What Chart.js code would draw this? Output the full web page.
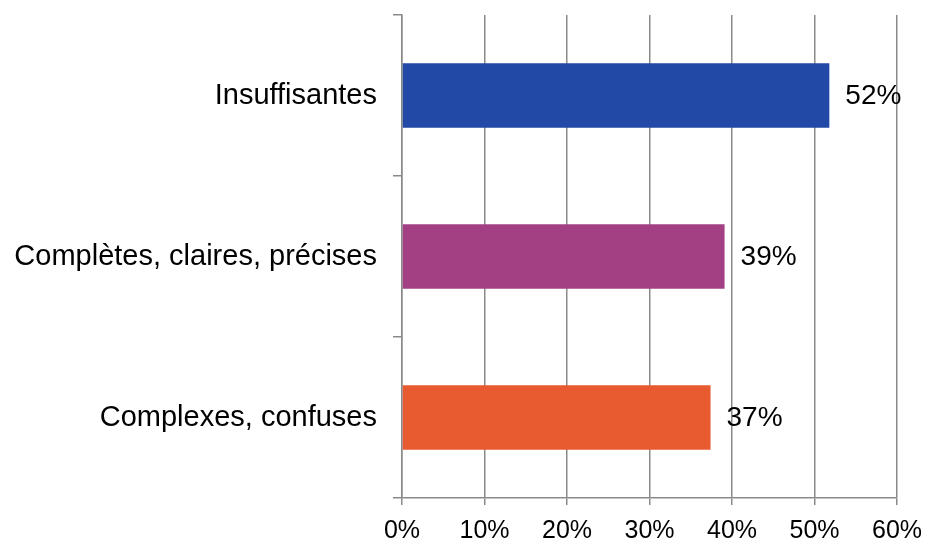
<!DOCTYPE html>
<html>
<head>
<meta charset="utf-8">
<script src="https://cdn.jsdelivr.net/npm/chart.js@4"></script>
<style>
  html, body { margin: 0; padding: 0; background: #ffffff; }
  #wrap { width: 925px; height: 540px; position: relative; }
</style>
</head>
<body>
<div id="wrap"><canvas id="c" width="925" height="540"></canvas></div>
<script>
const categories = ["Insuffisantes", "Complètes, claires, précises", "Complexes, confuses"];
const values = [51.8, 39.1, 37.4];
const barColors = ["#2249A5", "#A24083", "#E85B30"];
const xTicks = [0, 10, 20, 30, 40, 50, 60];

const FONT = "'Liberation Sans', Arial, sans-serif";
const GRID = "#8a8a8a";

const valueLabels = {
  id: "valueLabels",
  afterDatasetsDraw(chart) {
    const ctx = chart.ctx;
    const meta = chart.getDatasetMeta(0);
    ctx.save();
    ctx.font = "28px " + FONT;
    ctx.fillStyle = "#000000";
    ctx.textAlign = "left";
    ctx.textBaseline = "middle";
    meta.data.forEach((bar, i) => {
      ctx.fillText(Math.round(values[i]) + "%", bar.x + 16, bar.y + 1);
    });
    ctx.restore();
  }
};

new Chart(document.getElementById("c"), {
  type: "bar",
  data: {
    labels: categories,
    datasets: [{
      data: values,
      backgroundColor: barColors,
      borderWidth: 0,
      categoryPercentage: 0.8,
      barPercentage: 0.5
    }]
  },
  options: {
    indexAxis: "y",
    responsive: false,
    animation: false,
    devicePixelRatio: 1,
    layout: { padding: { top: 15, right: 28, bottom: 0, left: 0 } },
    plugins: { legend: { display: false }, tooltip: { enabled: false } },
    scales: {
      x: {
        min: 0, max: 60,
        afterBuildTicks(scale) { scale.ticks = xTicks.map(v => ({ value: v })); },
        afterFit(scale) { scale.height = 42; scale.paddingLeft = 0; scale.paddingRight = 0; },
        ticks: {
          callback: v => v + "%",
          color: "#000000",
          font: { family: FONT, size: 25 },
          padding: 11,
          maxRotation: 0
        },
        grid: { color: GRID, lineWidth: 1.5, tickLength: 7, drawTicks: true },
        border: { display: true, color: GRID, width: 1.5 }
      },
      y: {
        afterFit(scale) { scale.width = 402; scale.paddingTop = 0; scale.paddingBottom = 0; },
        ticks: {
          color: "#000000",
          font: { family: FONT, size: 29 },
          padding: 16
        },
        grid: { drawOnChartArea: false, drawTicks: true, tickLength: 9, color: GRID, lineWidth: 1.5, offset: true },
        border: { display: true, color: GRID, width: 1.5 }
      }
    }
  },
  plugins: [valueLabels]
});
</script>
</body>
</html>
